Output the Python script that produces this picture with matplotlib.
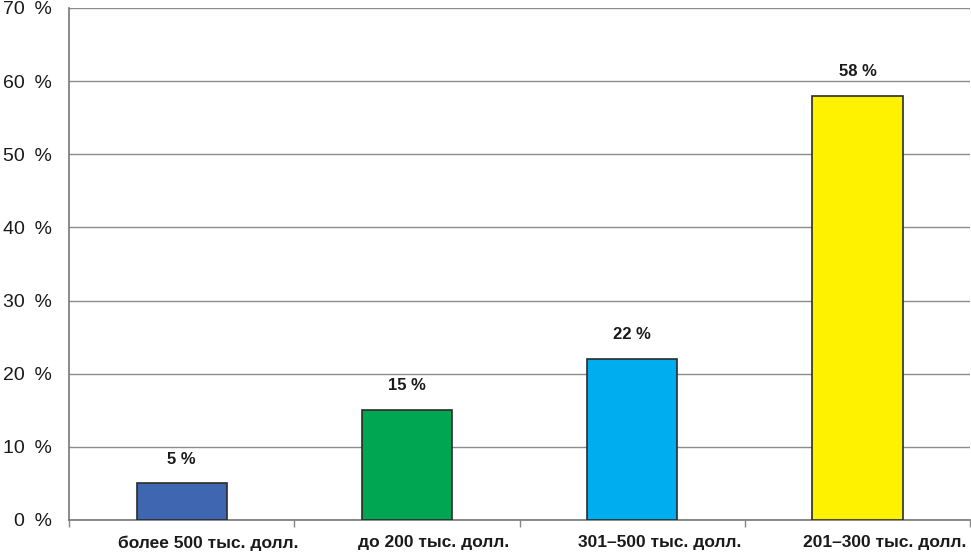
import matplotlib
matplotlib.use("Agg")
from matplotlib import pyplot as plt

categories = ["более 500 тыс. долл.", "до 200 тыс. долл.", "301–500 тыс. долл.", "201–300 тыс. долл."]
values = [5, 15, 22, 58]
bar_colors = ["#3f67b1", "#00a651", "#00aeef", "#fff200"]
y_ticks = [0, 10, 20, 30, 40, 50, 60, 70]

plt.rcParams['font.family'] = ['Liberation Sans', 'DejaVu Sans']

fig = plt.figure(figsize=(9.71, 5.54), dpi=100)
ax = fig.add_axes([0.0711, 0.0614, 0.928, 0.9242])

x = list(range(len(categories)))
ax.bar(x, values, width=0.4, color=bar_colors, edgecolor="#2b2b2b", linewidth=1.2, zorder=3)

# value labels above bars
for i in range(len(values)):
    ax.text(x[i], values[i] + 2.3, f"{values[i]} %", ha="center", va="bottom",
            fontsize=12, fontweight="bold", color="#1a1a1a")

ax.set_xlim(-0.5, len(categories) - 0.5)
ax.set_ylim(0, 70)
ax.set_yticks(y_ticks)
ax.set_yticklabels([f"{t}\u2002%" for t in y_ticks], fontsize=14, color="#1a1a1a")
ax.tick_params(axis="y", length=0, pad=12)

# category labels sit a bit right of the bar centres in the original
ax.set_xticks([i + 0.12 for i in x])
ax.set_xticklabels(categories, fontsize=12.5, fontweight="bold", color="#1a1a1a")
ax.tick_params(axis="x", which="major", length=0, pad=11)
ax.set_xticks([-0.5, 0.5, 1.5, 2.5, 3.5], minor=True)
ax.tick_params(axis="x", which="minor", length=5, color="#888888", width=1)

ax.yaxis.grid(True, color="#8c8c8c", linewidth=1, zorder=0)
ax.set_axisbelow(True)
for side in ["top", "right"]:
    ax.spines[side].set_visible(False)
ax.spines["left"].set_color("#777777")
ax.spines["bottom"].set_color("#777777")
ax.spines["left"].set_linewidth(1.2)
ax.spines["bottom"].set_linewidth(1.2)

fig.savefig("out.png", dpi=100)
